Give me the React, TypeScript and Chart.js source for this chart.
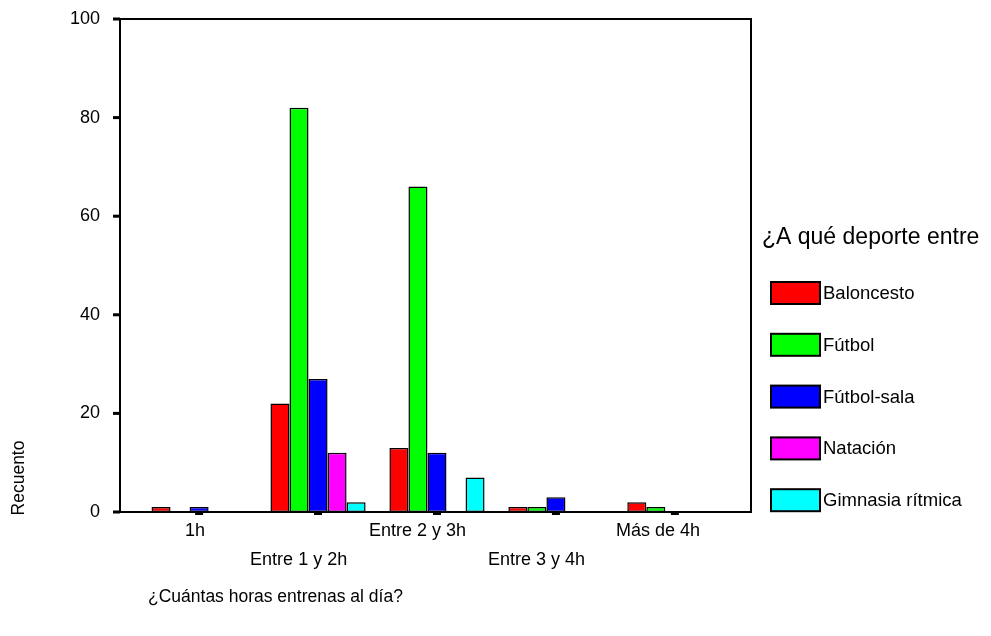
import React, { useEffect, useRef } from "react";
import { Chart, registerables } from "chart.js";

Chart.register(...registerables);

const categories = ["1h", "Entre 1 y 2h", "Entre 2 y 3h", "Entre 3 y 4h", "Más de 4h"];
const seriesNames = ["Baloncesto", "Fútbol", "Fútbol-sala", "Natación", "Gimnasia rítmica"];
const baloncesto = [1, 22, 13, 1, 2];
const futbol = [0, 82, 66, 1, 1];
const futbolSala = [1, 27, 12, 3, 0];
const natacion = [0, 12, 0, 0, 0];
const gimnasia = [0, 2, 7, 0, 0];
const yTicks = [0, 20, 40, 60, 80, 100];
const colors = ["#ff0000", "#00ff00", "#0000ff", "#ff00ff", "#00ffff"];
const xTitle = "¿Cuántas horas entrenas al día?";
const yTitle = "Recuento";
const legendTitle = "¿A qué deporte entre";

const FONT = "'Liberation Sans', Arial, sans-serif";

const decorPlugin = {
  id: "decor",
  afterDraw(chart: any) {
    const { ctx, chartArea } = chart;
    const { left, right, top, bottom } = chartArea;
    const xs = chart.scales.x;
    const ys = chart.scales.y;
    ctx.save();
    // frame
    ctx.strokeStyle = "#000";
    ctx.lineWidth = 2;
    ctx.strokeRect(left, top, right - left, bottom - top);
    ctx.fillStyle = "#000";
    // y tick marks
    yTicks.forEach((v) => {
      const y = ys.getPixelForValue(v);
      ctx.fillRect(left - 7, y - 1.5, 7, 3);
    });
    // x tick marks and labels
    ctx.font = `18px ${FONT}`;
    ctx.textBaseline = "middle";
    ctx.textAlign = "left";
    categories.forEach((c, i) => {
      const x = xs.getPixelForValue(i);
      ctx.fillRect(x - 4, bottom, 8, 3);
      const w = ctx.measureText(c).width;
      const sx = x - 0.7 * w;
      const y = bottom + (i % 2 === 0 ? 19 : 48);
      ctx.fillText(c, sx, y);
    });
    // x title
    ctx.font = `17.5px ${FONT}`;
    ctx.fillText(xTitle, 148, 597);
    // y title
    ctx.save();
    ctx.translate(19, 478);
    ctx.rotate(-Math.PI / 2);
    ctx.textAlign = "center";
    ctx.fillText(yTitle, 0, 0);
    ctx.restore();
    // legend
    ctx.font = `23px ${FONT}`;
    ctx.fillText(legendTitle, 762, 238);
    ctx.font = `18.5px ${FONT}`;
    chart.data.datasets.forEach((ds: any, i: number) => {
      const cy = 293 + i * 51.8;
      ctx.fillStyle = ds.backgroundColor;
      ctx.fillRect(771, cy - 11, 49, 22);
      ctx.strokeStyle = "#000";
      ctx.lineWidth = 2;
      ctx.strokeRect(771, cy - 11, 49, 22);
      ctx.fillStyle = "#000";
      ctx.fillText(ds.label, 823, cy + 1);
    });
    ctx.restore();
  },
};

export default function App() {
  const ref = useRef<HTMLCanvasElement>(null);
  useEffect(() => {
    if (!ref.current) return;
    const seriesValues = [baloncesto, futbol, futbolSala, natacion, gimnasia];
    const chart = new Chart(ref.current, {
      type: "bar",
      data: {
        datasets: seriesValues.map((vals, s) => ({
          label: seriesNames[s],
          data: vals.map((v, i) => ({ x: i, y: v })),
          backgroundColor: colors[s],
          borderColor: "#000",
          borderWidth: 1.5,
          borderSkipped: false,
          categoryPercentage: 0.8,
          barPercentage: 1,
        })),
      },
      options: {
        animation: false,
        responsive: true,
        maintainAspectRatio: false,
        layout: { padding: { top: 19, right: 240, bottom: 0, left: 0 } },
        plugins: { legend: { display: false }, tooltip: { enabled: false } },
        scales: {
          x: {
            type: "linear",
            offset: false,
            min: -0.665,
            max: 4.64,
            grid: { display: false, offset: false },
            border: { display: false },
            ticks: { display: false, stepSize: 1, includeBounds: false },
            afterFit(scale: any) {
              scale.height = 124;
              scale.paddingLeft = 0;
              scale.paddingRight = 0;
            },
          },
          y: {
            min: 0,
            max: 100,
            grid: { display: false, drawTicks: false },
            border: { display: false },
            ticks: {
              stepSize: 20,
              padding: 20,
              color: "#000",
              font: { family: FONT, size: 18 },
            },
            afterFit(scale: any) {
              scale.width = 120;
              scale.paddingTop = 0;
              scale.paddingBottom = 0;
            },
          },
        },
      },
      plugins: [decorPlugin],
    });
    return () => chart.destroy();
  }, []);
  return (
    <div style={{ position: "fixed", left: 0, top: 0, width: 991, height: 636, background: "#fff" }}>
      <canvas ref={ref} />
    </div>
  );
}
